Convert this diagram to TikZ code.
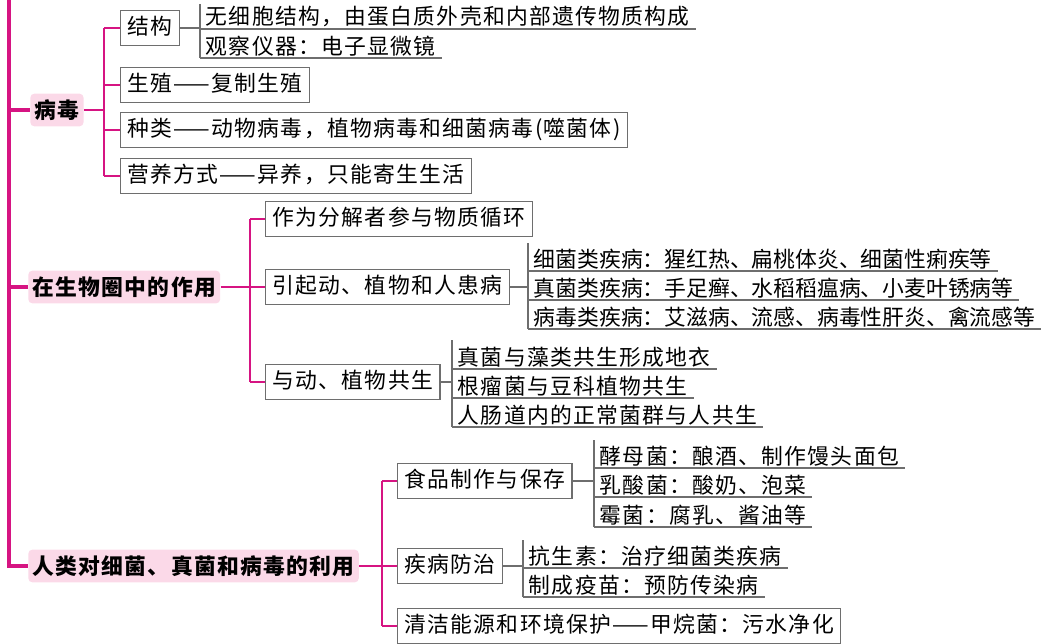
\documentclass[tikz,border=0pt]{standalone}
\usepackage{fontspec}
\setmainfont[LetterSpace=6]{Noto Sans CJK SC}
\newfontfamily\tightfont{Noto Sans CJK SC}
\usetikzlibrary{positioning}
\definecolor{rosa}{RGB}{214,20,130}
\definecolor{rosafill}{RGB}{251,217,232}
\definecolor{grau}{RGB}{110,110,110}
\tikzset{
  topic/.style={fill=rosafill, rounded corners=3pt, anchor=west, minimum height=0.82cm,
    inner xsep=3pt, font=\fontsize{15.5}{18}\selectfont\bfseries},
  item/.style={draw=grau, thick, anchor=west, minimum height=0.86cm, inner xsep=5pt,
    font=\fontsize{15.5}{18}\selectfont, text height=12pt, text depth=3pt},
  leaf/.style={anchor=south west, inner xsep=4pt, inner ysep=1pt,
    font=\fontsize{15.5}{18}\selectfont},
  tightleaf/.style={leaf, font=\fontsize{15.5}{18}\tightfont},
  pinkline/.style={rosa, thick},
  grayline/.style={grau, thick},
  bracket/.style={grau, line width=2pt}
}
\begin{document}
\begin{tikzpicture}[x=0.025cm, y=-0.025cm]
  \useasboundingbox (0,0) rectangle (1052,644);
  % main spine
  \draw [rosa, line width=2.2pt] (9,0) -- (9,566) -- (28,566);
  \node [topic] (virus) at (30,110) {病毒};
  \node [topic] (role) at (28,287) {在生物圈中的作用};
  \node [topic] (use) at (28,566) {人类对细菌、真菌和病毒的利用};
  \draw [rosa, line width=2.2pt] (9,110) -- (virus.west);
  \draw [rosa, line width=2.2pt] (9,287) -- (role.west);

  % virus
  \node [item] (struct) at (120,28) {结构};
  \node [item] (repro) at (120,85) {生殖——复制生殖};
  \node [item] (kind) at (120,130) {种类——动物病毒，植物病毒和细菌病毒(噬菌体)};
  \node [item] (food) at (120,176) {营养方式——异养，只能寄生生活};
  \draw [pinkline] (virus.east) -- (104,110);
  \draw [pinkline] (104,28) -- (104,176);
  \foreach \n in {struct,repro,kind,food}
    \draw [pinkline] (104,0 |- \n.west) -- (\n.west);
  \draw [grayline] (struct.east) -- (200,28);
  \draw [bracket] (200,4) -- (200,58);
  \node [leaf] (s1) at (200,29) {无细胞结构，由蛋白质外壳和内部遗传物质构成};
  \node [leaf] (s2) at (200,58) {观察仪器：电子显微镜};

  % role
  \node [item] (decomp) at (265,219) {作为分解者参与物质循环};
  \node [item] (disease) at (265,287) {引起动、植物和人患病};
  \node [item] (symb) at (265,382) {与动、植物共生};
  \draw [pinkline] (role.east) -- (250,287);
  \draw [pinkline] (250,219) -- (250,382);
  \foreach \n in {decomp,disease,symb}
    \draw [pinkline] (250,0 |- \n.west) -- (\n.west);
  \draw [grayline] (disease.east) -- (528,287);
  \draw [bracket] (528,243) -- (528,329);
  \node [tightleaf] (d1) at (528,271) {细菌类疾病：猩红热、扁桃体炎、细菌性痢疾等};
  \node [tightleaf] (d2) at (528,300) {真菌类疾病：手足癣、水稻稻瘟病、小麦叶锈病等};
  \node [tightleaf] (d3) at (528,329) {病毒类疾病：艾滋病、流感、病毒性肝炎、禽流感等};
  \draw [grayline] (symb.east) -- (452,382);
  \draw [bracket] (452,340) -- (452,427);
  \node [leaf] (y1) at (452,369) {真菌与藻类共生形成地衣};
  \node [leaf] (y2) at (452,398) {根瘤菌与豆科植物共生};
  \node [leaf] (y3) at (452,427) {人肠道内的正常菌群与人共生};

  % use
  \node [item] (make) at (397,481) {食品制作与保存};
  \node [item] (cure) at (397,566) {疾病防治};
  \node [item] (energy) at (397,626) {清洁能源和环境保护——甲烷菌：污水净化};
  \draw [pinkline] (use.east) -- (382,566);
  \draw [pinkline] (382,481) -- (382,626);
  \foreach \n in {make,cure,energy}
    \draw [pinkline] (382,0 |- \n.west) -- (\n.west);
  \draw [grayline] (make.east) -- (594,481);
  \draw [bracket] (594,440) -- (594,527);
  \node [leaf] (m1) at (594,468) {酵母菌：酿酒、制作馒头面包};
  \node [leaf] (m2) at (594,497) {乳酸菌：酸奶、泡菜};
  \node [leaf] (m3) at (594,527) {霉菌：腐乳、酱油等};
  \draw [grayline] (cure.east) -- (523,566);
  \draw [bracket] (523,540) -- (523,597);
  \node [leaf] (c1) at (523,568) {抗生素：治疗细菌类疾病};
  \node [leaf] (c2) at (523,597) {制成疫苗：预防传染病};

  \foreach \n in {s1,s2,d1,d2,d3,y1,y2,y3,m1,m2,m3,c1,c2}
    \draw [grayline] (\n.south west) -- (\n.south east);
\end{tikzpicture}
\end{document}
